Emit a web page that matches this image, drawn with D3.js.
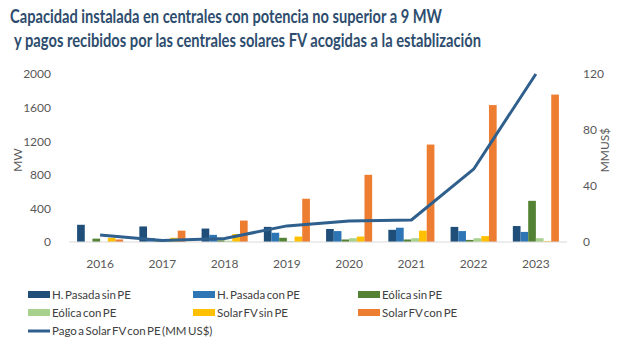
<!DOCTYPE html>
<html>
<head>
<meta charset="utf-8">
<script src="https://cdn.jsdelivr.net/npm/d3@7"></script>
<style>
  body { margin: 0; background: #fff; }
  svg { display: block; font-family: Lato, "Open Sans", sans-serif; }
</style>
</head>
<body>
<div id="chart"></div>
<script>
var years = ["2016", "2017", "2018", "2019", "2020", "2021", "2022", "2023"];

// MW installed by type
var hPasadaSinPE = [205, 185, 160, 180, 155, 145, 180, 190];
var hPasadaConPE = [0, 45, 85, 110, 130, 170, 130, 120];
var eolicaSinPE  = [40, 35, 20, 50, 30, 30, 25, 490];
var eolicaConPE  = [0, 5, 15, 10, 45, 45, 45, 45];
var solarSinPE   = [50, 50, 95, 65, 65, 135, 70, 10];
var solarConPE   = [30, 135, 255, 515, 800, 1160, 1630, 1755];

// payments, MMUS$
var pagoSolar = [5, 1, 2.5, 11.5, 15, 15.7, 52, 120];

var leftTicks  = [0, 400, 800, 1200, 1600, 2000];
var rightTicks = [0, 40, 80, 120];

var seriesNames = ["H. Pasada sin PE", "H. Pasada con PE", "Eólica sin PE",
                   "Eólica con PE", "Solar FV sin PE", "Solar FV con PE"];
var seriesColors = ["#1f4e79", "#2e75b6", "#548235", "#a9d18e", "#ffc000", "#ed7d31"];
var lineName = "Pago a Solar FV con PE (MM US$)";
var lineColor = "#2f5f8c";

var series = [hPasadaSinPE, hPasadaConPE, eolicaSinPE, eolicaConPE, solarSinPE, solarConPE];

var width = 622, height = 341;
var margin = {top: 74, left: 69, right: 55, bottom: 99};
var plotW = width - margin.left - margin.right;
var plotH = height - margin.top - margin.bottom;

var svg = d3.select("#chart").append("svg")
    .attr("width", width)
    .attr("height", height);

// title
var title = svg.append("g").attr("fill", "#2e4d6e")
    .attr("font-weight", "bold").attr("font-size", 18);
title.append("text").attr("x", 10).attr("y", 23)
    .attr("textLength", 432).attr("lengthAdjust", "spacingAndGlyphs")
    .text("Capacidad instalada en centrales con potencia no superior a 9 MW");
title.append("text").attr("x", 14).attr("y", 47)
    .attr("textLength", 467).attr("lengthAdjust", "spacingAndGlyphs")
    .text("y pagos recibidos por las centrales solares FV acogidas a la establización");

var graph = svg.append("g")
    .attr("transform", "translate(" + margin.left + "," + margin.top + ")");

var x0 = d3.scaleBand().domain(years).range([0, plotW]).paddingInner(0.26).paddingOuter(0.13);
var x1 = d3.scaleBand().domain(d3.range(series.length)).range([0, x0.bandwidth()]);
var yL = d3.scaleLinear().domain([0, 2000]).range([plotH, 0]);
var yR = d3.scaleLinear().domain([0, 120]).range([plotH, 0]);

// bars
series.forEach(function(vals, si) {
  graph.append("g").attr("fill", seriesColors[si])
    .selectAll("rect")
    .data(vals)
    .enter().append("rect")
      .attr("x", function(d, i) { return x0(years[i]) + x1(si); })
      .attr("width", x1.bandwidth())
      .attr("y", function(d) { return yL(d); })
      .attr("height", function(d) { return plotH - yL(d); });
});

// baseline
graph.append("line")
    .attr("x1", 0).attr("x2", plotW)
    .attr("y1", plotH).attr("y2", plotH)
    .attr("stroke", "#d9d9d9").attr("stroke-width", 1);

// axes
var axisStyle = function(g) {
  g.select(".domain").remove();
  g.selectAll(".tick line").remove();
  g.selectAll("text").attr("fill", "#595959").attr("font-size", 12)
    .attr("font-family", "Lato, Open Sans, sans-serif");
};

graph.append("g")
    .call(d3.axisLeft(yL).tickValues(leftTicks).tickFormat(d3.format("d")).tickPadding(12))
    .call(axisStyle);

graph.append("g")
    .attr("transform", "translate(" + plotW + ",0)")
    .call(d3.axisRight(yR).tickValues(rightTicks).tickFormat(d3.format("d")).tickPadding(10))
    .call(axisStyle);

graph.append("g")
    .attr("transform", "translate(0," + plotH + ")")
    .call(d3.axisBottom(x0).tickPadding(11))
    .call(axisStyle);

// axis titles
svg.append("text")
    .attr("transform", "translate(22,160) rotate(-90)")
    .attr("text-anchor", "middle").attr("fill", "#595959").attr("font-size", 12)
    .text("MW");
svg.append("text")
    .attr("transform", "translate(609,150) rotate(-90)")
    .attr("text-anchor", "middle").attr("fill", "#595959").attr("font-size", 12)
    .text("MMUS$");

// payment line
var line = d3.line()
    .x(function(d, i) { return x0(years[i]) + x0.bandwidth() / 2; })
    .y(function(d) { return yR(d); });

graph.append("path")
    .datum(pagoSolar)
    .attr("fill", "none")
    .attr("stroke", lineColor)
    .attr("stroke-width", 3)
    .attr("stroke-linejoin", "round")
    .attr("d", line);

// legend
var legendCols = [28, 193, 358];
var legendRows = [295, 313, 331];
var legend = svg.append("g").attr("font-size", 11.5)
    .attr("word-spacing", "-1.5px").attr("fill", "#404040");

seriesNames.forEach(function(name, i) {
  var lx = legendCols[i % 3], ly = legendRows[Math.floor(i / 3)];
  legend.append("rect")
    .attr("x", lx).attr("y", ly - 4).attr("width", 22).attr("height", 7)
    .attr("fill", seriesColors[i]);
  legend.append("text")
    .attr("x", lx + 24).attr("y", ly + 4)
    .text(name);
});

legend.append("line")
    .attr("x1", legendCols[0]).attr("x2", legendCols[0] + 22)
    .attr("y1", legendRows[2]).attr("y2", legendRows[2])
    .attr("stroke", lineColor).attr("stroke-width", 3);
legend.append("text")
    .attr("x", legendCols[0] + 24).attr("y", legendRows[2] + 4)
    .text(lineName);
</script>
</body>
</html>
